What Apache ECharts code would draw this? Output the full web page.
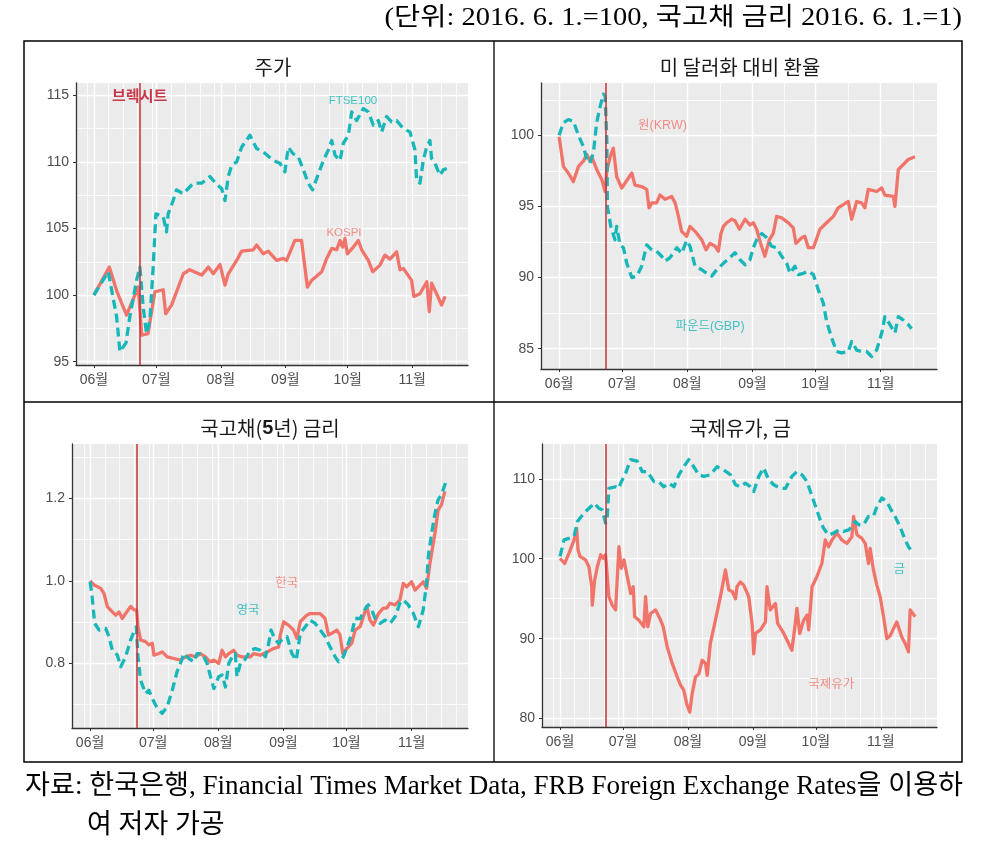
<!DOCTYPE html>
<html><head><meta charset="utf-8">
<script src="https://cdn.jsdelivr.net/npm/echarts@6/dist/echarts.min.js"></script>
<style>html,body{margin:0;padding:0;background:#fff}#c{width:987px;height:845px}</style>
</head><body><div id="c"></div>
<script>
// ---------- data (x = days since 2016-06-01) ----------
const monthTickDays = [0, 30, 61, 92, 122, 153];
const monthTickLabels = ['06월', '07월', '08월', '09월', '10월', '11월'];
const brexitDay = 22;

// Panel 1: 주가
const p1YTicks = [95, 100, 105, 110, 115];
const kospiDays = [0,7.4,11,15.7,21.3,23,26,29.3,33.3,34.5,37.3,43,46,51.8,55,57.4,60.6,63,64.6,68.6,71,76.6,78.2,81.4,83.8,87.8,91,92.6,96.6,99.8,102.6,104.6,109.5,111.9,114.3,116.7,118.3,119.6,120.7,121.8,124.7,127.1,128.7,131.9,134,137.5,139.9,142.3,145.5,147.1,148.7,152.7,153.8,156.7,160,161.2,162.3,164.7,167.1,168.8];
const kospiVals = [100,102.1,100.3,98.5,100.6,97.0,97.1,100.25,100.4,98.6,99.25,101.6,101.9,101.5,102.1,101.6,102.3,100.75,101.6,102.6,103.3,103.4,103.75,103.1,103.3,102.6,102.75,102.6,104.1,104.1,100.6,101.1,101.75,102.75,103.5,103.4,104.1,103.6,104.25,103.1,103.6,104.1,103.4,102.6,101.75,102.25,103,102.7,103.25,101.9,102,101.1,99.9,100.1,101,98.75,100.9,100.1,99.25,99.9];
const ftseDays = [0,6.9,10.9,12.5,15.4,17.3,20.5,22.1,23.7,25.3,26.9,28.5,29.8,33.3,34.9,35.7,38.1,39.7,42.9,47.8,51.8,55.8,59,61.4,63,64.6,66.2,68.6,71,75,78.2,81.4,86.2,89.4,91.8,93.4,95.8,98.2,101.4,103,105.1,107.9,110.3,112.7,114.3,115.9,118.3,119.9,122.3,123.9,126.3,129.5,131.9,134.3,136.7,138.3,140.7,143.1,145.5,148.7,151.9,154.3,155.1,156.7,158.3,159.9,161.5,162.3,163.9,166.3,167.9,169.6];
const ftseVals = [100,101.75,98.4,95.75,96.4,98.4,101.1,102.1,99.1,97.1,98.1,102.1,106.1,105.9,104.75,106.1,107.1,107.9,107.6,108.4,108.4,108.9,108.3,108,107.1,108.9,109.75,110,111.1,112,111,110.75,110.1,109.9,109.25,111.1,110.6,110.4,109.1,108.4,107.9,109.1,110.1,110.9,111.6,110.5,110.1,111.4,112,113.75,113.1,114,113.75,112.75,113.1,112.25,113.4,113,113.1,112.5,112.25,110.9,108.6,108.4,110.1,111.1,111.6,110.25,109.9,109,109.4,109.5];

// Panel 2: 미 달러화 대비 환율
const p2YTicks = [85, 90, 95, 100];
const krwDays = [0,2.1,4.4,6.8,9.2,11.6,13.2,14.7,15.5,17.9,20.3,21.9,22.7,24.3,25.8,27.4,29.8,31.4,34.6,36.1,39.3,41.7,42.8,44.1,46.4,48,50.4,53.6,55.2,56.8,58.3,60.7,62.3,64.7,67.9,69.9,71.8,74.2,75.8,77,78.2,79.7,82.1,83.7,85.8,88.5,90.8,92.4,94,95.9,97.9,100,101.9,103.5,105.9,109.1,111.4,112.7,115.4,116.9,118.6,121,124.1,127.3,130.5,132.8,137.6,139.2,141.6,143.9,145.5,147.1,151.1,153.5,155,159,159.8,161.4,163.8,166.1,169.3];
const krwVals = [99.9,97.8,97.35,96.75,97.8,98.2,98.65,98.2,98.5,97.6,96.9,96.05,97.5,98.5,99.1,97.1,96.3,96.65,97.35,96.5,96.4,96.2,94.9,95.25,95.25,95.8,95.5,95.7,95.25,94.3,93.25,92.9,93.6,93.25,92.65,91.95,92.4,92.2,91.85,93.1,93.6,93.85,94.1,94,93.4,94.1,93.7,93.85,93.4,92.4,91.5,92.65,93.1,94.3,94.2,93.85,93.5,92.4,92.8,92.9,92.1,92.1,93.4,93.85,94.3,94.9,95.35,94.1,95.35,95.25,94.9,96.2,96.05,96.3,95.8,95.7,95,97.6,97.95,98.3,98.5];
const gbpDays = [0,2.1,4.4,6.8,9.2,11.6,13.2,14.7,16.3,17.9,19.5,21.1,21.9,22.7,23,24.6,26.6,27.4,29,30.6,32.2,34.6,37,39.3,41.7,44.1,46.4,48.8,50.4,52.8,56,58.3,60.7,62.3,64.7,67.9,70.2,72.6,75,78.2,81.3,83.7,86.1,88.5,90.8,92.4,94,96.4,98.8,101.1,103.5,105.9,108.3,109.9,112.2,113.8,116.2,118.6,121,123.3,125.7,127.3,129.7,132,134.4,137.6,139.2,141.6,143.9,146.3,148.7,151.1,153.5,155,157.4,159.8,161.4,163.8,166.1,167.7];
const gbpVals = [100,100.9,101.1,101,100,99.2,98.3,98.05,98.75,100.9,102,102.9,102.75,99.7,95,93.6,92.65,93.6,92.3,92.1,91,90,90.1,90.8,92.3,91.95,91.85,91.5,91.15,91.4,92.1,91.7,92.6,92.2,90.8,90.55,90.3,90.1,90.55,91,91.4,91.75,91.25,90.9,91.25,92.1,92.65,93.1,92.8,92.2,92.1,91.5,91,90.3,90.8,90.2,90.3,90.45,90.2,89.15,88.2,86.9,85.75,84.8,84.7,84.8,85.5,84.9,84.8,84.8,84.45,84.9,86.1,87.25,86.7,86.1,87.25,87,86.7,86.4];

// Panel 3: 국고채(5년) 금리
const p3YTicks = [0.8, 1.0, 1.2];
const korDays = [0,1.9,5.1,6.6,8.2,10.6,12.2,13.8,15.3,16.9,19.3,20.9,22.1,22.8,24,26.4,28,29.6,30.4,32.7,34.3,36.7,39.9,43,45.4,47.8,50.1,52.5,54.9,57,58.9,61.2,62.8,64.4,66,68.3,69.9,72.3,76.3,77.8,81,84.2,87.3,89.7,90.5,92.1,94.4,96.8,98.4,100,103.1,104.7,109.5,111.8,113.4,115,117.4,118.9,120.2,122.1,124.5,126.1,128.5,130,131.6,133.2,134.8,137.2,139.5,141.1,142.7,145.1,147.4,149,150.6,153,154.6,157,158.5,160.1,161.7,164.1,165.6,167.2,168.8];
const korVals = [1.0,0.99,0.982,0.97,0.938,0.925,0.917,0.925,0.909,0.921,0.938,0.93,0.93,0.889,0.857,0.853,0.845,0.849,0.82,0.824,0.828,0.816,0.812,0.808,0.816,0.82,0.816,0.824,0.816,0.804,0.808,0.8,0.832,0.816,0.824,0.832,0.82,0.816,0.816,0.824,0.82,0.828,0.836,0.84,0.869,0.901,0.893,0.881,0.861,0.901,0.917,0.921,0.921,0.909,0.869,0.873,0.881,0.869,0.824,0.836,0.849,0.881,0.889,0.913,0.938,0.905,0.893,0.921,0.934,0.934,0.946,0.942,0.954,0.994,0.986,0.998,0.978,0.99,0.998,0.982,1.043,1.116,1.172,1.185,1.217];
const ukDays = [0,0.8,2.2,4.3,7.4,9,10.6,13,14.6,16.9,19.3,20.9,22,22.8,24,26.4,28,29.6,32,34.3,36.7,39.1,41.4,43,44.6,47,49.4,50.9,53.3,55.7,57.3,58.9,61.2,62.8,64.4,66,67.6,69.1,69.9,71.5,73.1,76.3,78.6,81,83.4,85,86.1,88.1,89.7,91.3,93.7,96,98.1,100,102.4,104.7,107.1,109.5,111.8,114.2,116.6,118.2,120.5,122.9,124.5,126.1,128.5,131.1,132.4,134,135.6,138,140.3,142.7,145.1,147.4,149,151.4,153.8,156.2,158.5,160.1,160.9,162.5,164.1,165.6,167.2,169.3];
const ukVals = [0.998,0.97,0.897,0.881,0.885,0.865,0.832,0.82,0.792,0.816,0.857,0.877,0.889,0.816,0.76,0.727,0.735,0.715,0.691,0.679,0.695,0.735,0.78,0.8,0.824,0.812,0.804,0.824,0.824,0.8,0.768,0.739,0.768,0.772,0.743,0.8,0.816,0.824,0.768,0.8,0.804,0.832,0.836,0.832,0.816,0.849,0.881,0.857,0.849,0.857,0.865,0.824,0.808,0.873,0.889,0.905,0.897,0.881,0.865,0.84,0.816,0.804,0.816,0.849,0.873,0.909,0.909,0.934,0.942,0.93,0.909,0.897,0.905,0.897,0.913,0.946,0.954,0.942,0.921,0.889,0.93,0.994,1.059,1.116,1.164,1.197,1.209,1.241];

// Panel 4: 국제유가, 금
const p4YTicks = [80, 90, 100, 110];
const oilDays = [0,2.2,4.3,6.7,7.9,8.6,9.5,12.2,13.8,15.1,15.4,16.5,17.8,19.4,20.6,21.7,22.5,23.3,24.9,26.5,28.1,29.2,30.5,32.1,33.7,34.9,35.6,37.6,40,40.8,41.9,43.2,45.6,48,49.2,51.1,53.5,55.9,57.5,59,60.6,61.9,63,64.6,66.2,67.8,69.4,70.2,71.7,74.1,76.5,78.9,80.5,82.1,83.7,84.4,86,87.6,90,91.6,92.4,93.2,95.6,98,98.7,100.3,102.7,103.8,106.7,110.6,112.2,113,114.3,116.2,117.8,118.6,120.2,122.5,124.9,126.5,128.1,129.7,132.1,134.4,136.8,139.2,140,141.6,144,145.6,147.1,147.9,149.5,151.1,152.7,154.3,155.9,157.5,160.6,163,164.6,166.2,167,169.4];
const oilVals = [100.05,99.4,100.7,102.35,103.8,101.1,100.3,99.85,99,96.5,94.2,97.3,99,100.5,100.05,100.5,100.3,95.25,94.2,93.6,101.5,98.8,99.85,97.75,95.65,96.5,92.75,92.3,91.5,95.25,91.5,93.15,93.6,92.3,91.5,89,86.9,85.2,84.2,83.55,81.7,80.8,83.1,85.2,85.6,87.3,86.9,85.4,89.4,92.3,95.25,98.6,96.1,95.9,95,96.5,97.1,96.7,95.25,91.9,88.1,90.65,91.1,92.1,96.5,93.6,94.4,91.9,90.65,88.55,91.9,93.8,90.65,92.3,92.95,91.1,96.5,97.75,99.4,102.35,101.5,102.35,103.2,102.35,101.9,102.75,105.3,103,102.55,101.9,99.4,101.3,98.6,96.7,95.25,92.75,90,90.4,92.1,90.2,89.4,88.35,93.6,92.75];
const goldDays = [0,1.9,4.3,6.7,8.3,11.4,14.6,16.2,18.6,20.2,21.7,22.5,23.3,26.5,28.1,28.9,31.3,33.7,36.8,39.2,41.6,44.8,47.1,49.5,51.9,54.3,56.7,59,61.4,63.8,66.2,68.6,71.7,74.9,78.1,81.3,83.7,86,88.4,90.8,92.4,94.8,97.1,99.5,101.9,105.1,107.5,110.6,113,115.4,117.8,120.2,122.2,124.1,125.7,128.1,130.5,132.9,135.2,137.6,139.2,140.8,142.4,144.8,147.1,149.5,151.1,153.5,155.9,157.5,159.8,162.2,164.6,166.2,167.8];
const goldVals = [100.3,102.35,102.55,102.8,104.65,105.7,106.5,106.95,106.3,106.1,104.45,105.1,108.8,109,108.8,109.45,110.7,112.4,112.2,110.9,110.9,109.65,109.65,109,109.45,109,110.5,111.5,112.4,111.5,110.5,110.3,110.5,111.5,111.1,110.5,109.25,109,109.45,109,108.4,110.3,111.35,109.9,109.25,108.8,108.8,110.3,110.9,110.5,109.65,107.8,106.3,104.85,103.8,102.95,103.2,103.6,103.4,103.6,104,104.65,104.25,104.25,105.3,105.3,106.5,107.6,107.15,106.3,105.3,104,102.35,101.5,100.9];

// ---------- styling ----------
const RED = '#F1746B', TEAL = '#17B7B9', VLINE = '#C8323A';
const SANS = '"Liberation Sans", "Noto Sans CJK KR", sans-serif';
const KR = '"Noto Sans CJK KR", sans-serif';
const SERIF = '"Liberation Serif", "Noto Sans CJK KR", serif';
const X_MIN = -8.6, X_MAX = 179.8;

function zip(d, v) { return d.map((x, i) => [x, v[i]]); }
function minorWeekDays() {
  const base = new Date(2016, 5, 1).getTime(), out = [];
  for (let m = 4; m <= 10; m++) for (const dd of [1, 8, 15, 22, 29]) {
    const t = Math.round((new Date(2016, m, dd).getTime() - base) / 86400000);
    if (t > X_MIN && t < X_MAX) out.push(t);
  }
  return out;
}
function midMonthDays() {
  const out = [];
  for (let i = 0; i < monthTickDays.length - 1; i++) out.push((monthTickDays[i] + monthTickDays[i + 1]) / 2);
  out.push(monthTickDays[monthTickDays.length - 1] + 15.5);
  return out;
}
function halfSteps(ticks, lo, hi) {
  const step = ticks[1] - ticks[0], out = [];
  for (let v = ticks[0] - step / 2; v < hi; v += step) if (v > lo) out.push(+v.toFixed(4));
  return out;
}

const panels = [
  { grid: { left: 76, top: 83, width: 392, height: 282 }, yMin: 94.75, yMax: 115.92, yTicks: p1YTicks, dec: 0, xMinor: minorWeekDays(),
    series: [[kospiDays, kospiVals, RED, 'solid'], [ftseDays, ftseVals, TEAL, 'dashed']],
    notes: [[120.2, 104.65, 'KOSPI', RED, 11.5], [124.5, 114.55, 'FTSE100', TEAL, 11.5]], brexitText: true },
  { grid: { left: 541, top: 83, width: 396, height: 286 }, yMin: 83.57, yMax: 103.68, yTicks: p2YTicks, dec: 0, xMinor: midMonthDays(),
    series: [[krwDays, krwVals, RED, 'solid'], [gbpDays, gbpVals, TEAL, 'dashed']],
    notes: [[49.2, 100.68, '원(KRW)', RED, 12.5], [71.8, 86.55, '파운드(GBP)', TEAL, 12.5]] },
  { grid: { left: 72, top: 444, width: 396, height: 284 }, yMin: 0.6435, yMax: 1.332, yTicks: p3YTicks, dec: 1, xMinor: minorWeekDays(),
    series: [[korDays, korVals, RED, 'solid'], [ukDays, ukVals, TEAL, 'dashed']],
    notes: [[93.6, 0.993, '한국', RED, 12.5], [75.1, 0.928, '영국', TEAL, 12.5]] },
  { grid: { left: 542, top: 444, width: 395, height: 283 }, yMin: 78.95, yMax: 114.35, yTicks: p4YTicks, dec: 0, xMinor: minorWeekDays(),
    series: [[oilDays, oilVals, RED, 'solid'], [goldDays, goldVals, TEAL, 'dashed']],
    notes: [[129.4, 84.2, '국제유가', RED, 12.5], [161.8, 98.6, '금', TEAL, 12.5]] }
];

const grid = [], xAxis = [], yAxis = [], series = [];
panels.forEach((p, gi) => {
  grid.push(Object.assign({ show: true, backgroundColor: '#EBEBEB', borderWidth: 0, containLabel: false, outerBoundsMode: 'none' }, p.grid));
  const xi = xAxis.length, yi = yAxis.length;
  xAxis.push({ gridIndex: gi, type: 'value', min: X_MIN, max: X_MAX, position: 'bottom',
    axisLine: { show: true, onZero: false, lineStyle: { color: '#333', width: 1.3 } },
    axisTick: { show: true, length: 3, customValues: monthTickDays, lineStyle: { color: '#333', width: 1 } },
    axisLabel: { customValues: monthTickDays, formatter: v => monthTickLabels[monthTickDays.indexOf(v)] || '', color: '#4D4D4D', fontSize: 14, fontFamily: SANS, margin: 8 },
    splitLine: { show: true, lineStyle: { color: '#FFFFFF', width: 1.4 } } });
  xAxis.push({ gridIndex: gi, type: 'value', min: X_MIN, max: X_MAX, position: 'top',
    axisLine: { show: false }, axisTick: { show: false, customValues: p.xMinor }, axisLabel: { show: false },
    splitLine: { show: true, lineStyle: { color: '#FFFFFF', width: 0.8 } } });
  yAxis.push({ gridIndex: gi, type: 'value', min: p.yMin, max: p.yMax, position: 'left',
    axisLine: { show: true, onZero: false, lineStyle: { color: '#333', width: 1.3 } },
    axisTick: { show: true, length: 3, customValues: p.yTicks, lineStyle: { color: '#333', width: 1 } },
    axisLabel: { customValues: p.yTicks, formatter: v => (+v).toFixed(p.dec), color: '#4D4D4D', fontSize: 14, fontFamily: SANS, margin: 7 },
    splitLine: { show: true, lineStyle: { color: '#FFFFFF', width: 1.4 } } });
  yAxis.push({ gridIndex: gi, type: 'value', min: p.yMin, max: p.yMax, position: 'right',
    axisLine: { show: false }, axisTick: { show: false, customValues: halfSteps(p.yTicks, p.yMin, p.yMax) }, axisLabel: { show: false },
    splitLine: { show: true, lineStyle: { color: '#FFFFFF', width: 0.8 } } });
  // Brexit vertical line
  series.push({ type: 'line', xAxisIndex: xi, yAxisIndex: yi, data: [], z: 1, silent: true,
    markLine: { silent: true, symbol: ['none', 'none'], animation: false, label: { show: false },
      lineStyle: { color: VLINE, width: 1.5, type: 'solid' }, data: [{ xAxis: brexitDay }] } });
  p.series.forEach(s => {
    series.push({ type: 'line', xAxisIndex: xi, yAxisIndex: yi, data: zip(s[0], s[1]), z: 3,
      symbol: 'none', showSymbol: false, silent: true,
      lineStyle: { color: s[2], width: 3.3, type: s[3] === 'dashed' ? [9, 5] : 'solid', cap: 'butt', join: 'round' } });
  });
  const noteData = p.notes.map(n => ({ value: [n[0], n[1]], label: { formatter: n[2], color: n[3], fontSize: n[4] } }));
  if (p.brexitText) noteData.push({ value: [brexitDay, 114.9], label: { formatter: '브렉시트', color: '#BE0A1E', fontWeight: 'bold', fontSize: 15 } });
  series.push({ type: 'scatter', xAxisIndex: xi, yAxisIndex: yi, data: noteData, z: 5, silent: true,
    symbolSize: 1, itemStyle: { color: 'rgba(0,0,0,0)' },
    label: { show: true, position: 'inside', fontSize: 12.5, fontFamily: SANS } });
});

const titles = [['주가', 273, 67], ['미 달러화 대비 환율', 740, 67], ['국고채({b|5}년) 금리', 270, 428], ['국제유가, 금', 740, 428]];
const graphic = [
  { type: 'rect', shape: { x: 24, y: 41, width: 938, height: 721 }, style: { fill: 'none', stroke: '#000', lineWidth: 1.5 }, silent: true },
  { type: 'line', shape: { x1: 494, y1: 41, x2: 494, y2: 762 }, style: { stroke: '#000', lineWidth: 1.3 }, silent: true },
  { type: 'line', shape: { x1: 24, y1: 402, x2: 962, y2: 402 }, style: { stroke: '#000', lineWidth: 1.3 }, silent: true },
  { type: 'text', x: 962, y: 18, scaleX: 1.14, silent: true,
    style: { text: '(단위: 2016. 6. 1.=100, 국고채 금리 2016. 6. 1.=1)', fontSize: 25, fontFamily: SERIF, fill: '#000', textAlign: 'right', textVerticalAlign: 'middle' } },
  { type: 'text', x: 25, y: 787, scaleX: 1.004, silent: true,
    style: { text: '자료: 한국은행, Financial Times Market Data, FRB Foreign Exchange Rates을 이용하', fontSize: 27, fontFamily: SERIF, fill: '#000', textAlign: 'left', textVerticalAlign: 'middle' } },
  { type: 'text', x: 87, y: 826, scaleX: 1.0, silent: true,
    style: { text: '여 저자 가공', fontSize: 27, fontFamily: SERIF, fill: '#000', textAlign: 'left', textVerticalAlign: 'middle' } }
];
titles.forEach(t => graphic.push({ type: 'text', x: t[1], y: t[2], silent: true,
  style: { text: t[0], fontSize: 20, fontFamily: KR, fill: '#1A1A1A', textAlign: 'center', textVerticalAlign: 'middle',
    rich: { b: { fontSize: 20, fontWeight: 'bold', fontFamily: SANS, fill: '#1A1A1A' } } } }));

const chart = echarts.init(document.getElementById('c'), null, { renderer: 'canvas' });
chart.setOption({ backgroundColor: '#FFFFFF', animation: false, grid, xAxis, yAxis, series, graphic });
</script></body></html>
